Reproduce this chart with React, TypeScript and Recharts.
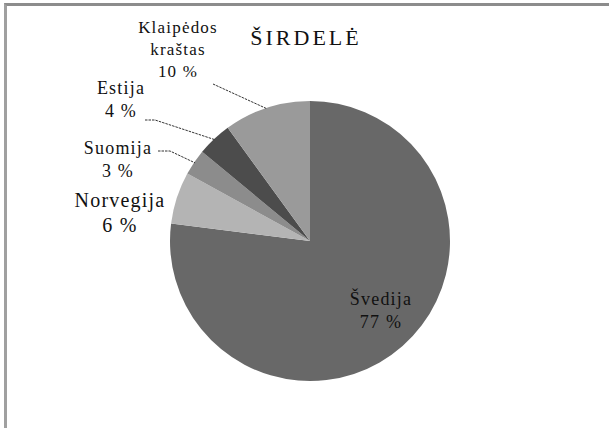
import { PieChart, Pie, Cell } from "recharts"

const countries = ["Švedija", "Norvegija", "Suomija", "Estija", "Klaipėdos kraštas"]
const shares = [77, 6, 3, 4, 10]
const sliceColors = ["#686868", "#b4b4b4", "#8c8c8c", "#4c4c4c", "#9a9a9a"]
const title = "ŠIRDELĖ"

const data = countries.map((name, i) => ({ name, value: shares[i] }))

// label text placement relative to pie centre, plus leader line start (if any)
const labelLayout = [
  { lines: ["Švedija"], dx: 71, dy: 64, size: 18, leader: null },
  { lines: ["Norvegija"], dx: -190, dy: -34, size: 20, leader: null },
  { lines: ["Suomija"], dx: -192, dy: -87, size: 18, leader: [[-152, -90], [-140, -90]] },
  { lines: ["Estija"], dx: -189, dy: -147, size: 18, leader: [[-165, -121], [-155, -121]] },
  { lines: ["Klaipėdos", "kraštas"], dx: -132, dy: -208, size: 17, leader: [[-97, -157]] },
]

const RAD = Math.PI / 180
const textColor = "#111"

function renderLabel(props: any) {
  const { cx, cy, midAngle, outerRadius, index, value } = props
  const lay = labelLayout[index]
  const rows = [...lay.lines, `${value} %`]
  const step = lay.size + 5
  let leader = null
  if (lay.leader) {
    const ex = cx + (outerRadius - 1) * Math.cos(-midAngle * RAD)
    const ey = cy + (outerRadius - 1) * Math.sin(-midAngle * RAD)
    const pts = lay.leader.map((p) => `${cx + p[0]},${cy + p[1]}`).join(" ") + ` ${ex},${ey}`
    leader = <polyline points={pts} fill="none" stroke="#333" strokeWidth={1} strokeDasharray="2.5 1" />
  }
  return (
    <g key={`lbl-${index}`}>
      {leader}
      {rows.map((r, k) => (
        <text
          key={k}
          x={cx + lay.dx}
          y={cy + lay.dy + k * step}
          textAnchor="middle"
          fontFamily="'Liberation Serif', 'Times New Roman', serif"
          fontSize={lay.size}
          letterSpacing={1.2}
          fill={textColor}
        >
          {r}
        </text>
      ))}
    </g>
  )
}

export default function App() {
  return (
    <div style={{ position: "absolute", left: 0, top: 0, width: 609, height: 428, background: "#fff" }}>
      <div
        style={{
          position: "absolute",
          left: 4,
          top: 3,
          width: 605,
          height: 422,
          borderTop: "3px solid #8c8c8c",
          borderLeft: "3px solid #a0a0a0",
          borderBottom: "1px solid #dcdcdc",
        }}
      />
      <div style={{ position: "absolute", left: 0, top: 0 }}>
        <PieChart width={609} height={428} margin={{ top: 0, right: 0, bottom: 0, left: 0 }}>
          <Pie
            data={data}
            dataKey="value"
            nameKey="name"
            cx={310}
            cy={241}
            outerRadius={140}
            startAngle={90}
            endAngle={-270}
            stroke="none"
            label={renderLabel}
            labelLine={false}
            isAnimationActive={false}
          >
            {data.map((d, i) => (
              <Cell key={d.name} fill={sliceColors[i]} />
            ))}
          </Pie>
        </PieChart>
      </div>
      <svg width={609} height={60} style={{ position: "absolute", left: 0, top: 0 }}>
        <text
          x={306}
          y={45}
          textAnchor="middle"
          fontFamily="'Liberation Serif', 'Times New Roman', serif"
          fontSize={22}
          letterSpacing={3}
          fill={textColor}
        >
          {title}
        </text>
      </svg>
    </div>
  )
}
